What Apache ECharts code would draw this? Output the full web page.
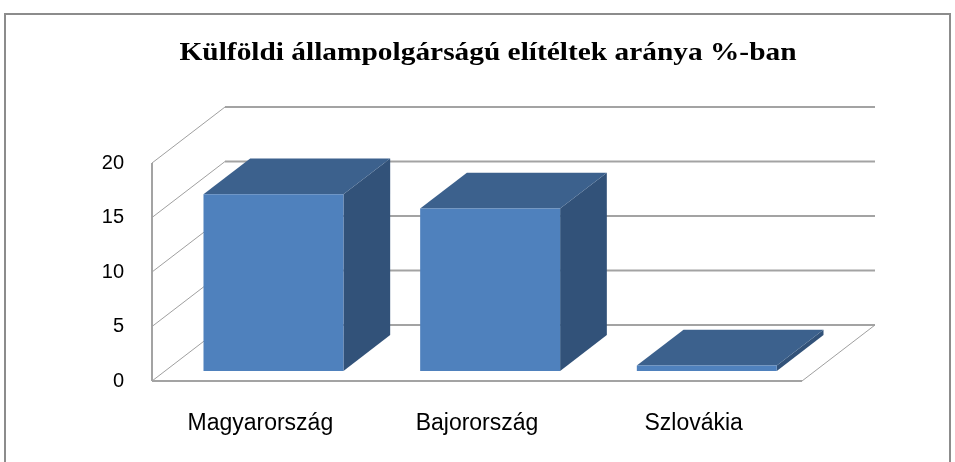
<!DOCTYPE html>
<html>
<head>
<meta charset="utf-8">
<script src="https://cdn.jsdelivr.net/npm/echarts@6/dist/echarts.min.js"></script>
<style>
  html, body { margin: 0; padding: 0; background: #fff; }
  #chart { width: 955px; height: 462px; }
</style>
</head>
<body>
<div id="chart"></div>
<script>
// adatok
const titleText = 'Külföldi állampolgárságú elítéltek aránya %-ban';
const categories = ['Magyarország', 'Bajorország', 'Szlovákia'];
const values = [16.2, 14.9, 0.5];
const yTicks = [0, 5, 10, 15, 20];

// 3D hatás (pixelben)
const DEPTH_X = 73, DEPTH_Y = -56;
const BAR_FRONT = 0.18, BAR_BACK = 0.82;
const BAR_RATIO = 0.646;

const chart = echarts.init(document.getElementById('chart'));

function wallItem(params, api) {
  let v = api.value(1);
  let p = api.coord([0, v]);
  let band = api.size([1, 0])[0];
  let x0 = p[0] - band / 2;
  let x1 = x0 + band * categories.length;
  let y = p[1];
  let line = (a, b, w, c) => ({
    type: 'line',
    shape: { x1: a[0], y1: a[1], x2: b[0], y2: b[1] },
    style: { stroke: c || '#9a9a9a', lineWidth: w || 1 }
  });
  let children = [
    line([x0, y], [x0 + DEPTH_X, y + DEPTH_Y], 1, '#a0a0a0'),
    line([x0 + DEPTH_X, y + DEPTH_Y], [x1 + DEPTH_X, y + DEPTH_Y], 2, '#a3a3a3')
  ];
  if (v === 0) {
    let top = api.coord([0, yTicks[yTicks.length - 1]])[1];
    children.push(line([x0, y], [x1, y], 2, '#a3a3a3'));
    children.push(line([x1, y], [x1 + DEPTH_X, y + DEPTH_Y], 1, '#a0a0a0'));
    children.push(line([x0, y], [x0, top], 2, '#a3a3a3'));
  }
  return { type: 'group', children: children };
}

function barItem(params, api) {
  let idx = api.value(0);
  let top = api.coord([idx, api.value(1)]);
  let base = api.coord([idx, 0]);
  let band = api.size([1, 0])[0];
  let hw = band * BAR_RATIO / 2;
  let fx = DEPTH_X * BAR_FRONT, fy = DEPTH_Y * BAR_FRONT;
  let bx = DEPTH_X * (BAR_BACK - BAR_FRONT), by = DEPTH_Y * (BAR_BACK - BAR_FRONT);
  let L = top[0] - hw + fx, R = top[0] + hw + fx;
  let T = top[1] + fy, B = base[1] + fy;
  return {
    type: 'group',
    children: [
      {
        type: 'polygon',
        shape: { points: [[R, T], [R + bx, T + by], [R + bx, B + by], [R, B]] },
        style: { fill: '#325279' }
      },
      {
        type: 'polygon',
        shape: { points: [[L, T], [R, T], [R + bx, T + by], [L + bx, T + by]] },
        style: { fill: '#3c618d' }
      },
      {
        type: 'rect',
        shape: { x: L, y: T, width: R - L, height: B - T },
        style: { fill: '#4f81bd' }
      }
    ]
  };
}

let option = {
  backgroundColor: '#fff',
  animation: false,
  graphic: [
    {
      type: 'rect',
      shape: { x: 5, y: 14, width: 945, height: 470 },
      style: { fill: 'none', stroke: '#8c8c8c', lineWidth: 2 },
      silent: true
    },
    {
      // cím, kissé széthúzva mint az eredetin
      type: 'text',
      x: 488,
      y: 40,
      scaleX: 1.13,
      style: {
        text: titleText,
        textAlign: 'center',
        textVerticalAlign: 'top',
        fontFamily: 'Liberation Serif',
        fontWeight: 'bold',
        fontSize: 26,
        fill: '#000'
      },
      silent: true
    }
  ],
  grid: {
    left: 152,
    right: 153,
    top: 163,
    bottom: 81
  },
  xAxis: {
    type: 'category',
    data: categories,
    axisLine: { show: false },
    axisTick: { show: false },
    splitLine: { show: false },
    axisLabel: {
      margin: 31,
      fontFamily: 'Liberation Sans',
      fontSize: 23,
      color: '#000'
    }
  },
  yAxis: {
    type: 'value',
    min: 0,
    max: 20,
    interval: 5,
    axisLine: { show: false },
    axisTick: { show: false },
    splitLine: { show: false },
    axisLabel: {
      margin: 28,
      fontFamily: 'Liberation Sans',
      fontSize: 20,
      color: '#000'
    }
  },
  series: [
    {
      type: 'custom',
      renderItem: wallItem,
      data: yTicks.map(v => [0, v]),
      silent: true,
      z: 1
    },
    {
      type: 'custom',
      renderItem: barItem,
      data: values.map((v, i) => [i, v]),
      z: 2
    }
  ]
};

chart.setOption(option);
window.addEventListener('resize', () => {
  chart.resize();
});
</script>
</body>
</html>
